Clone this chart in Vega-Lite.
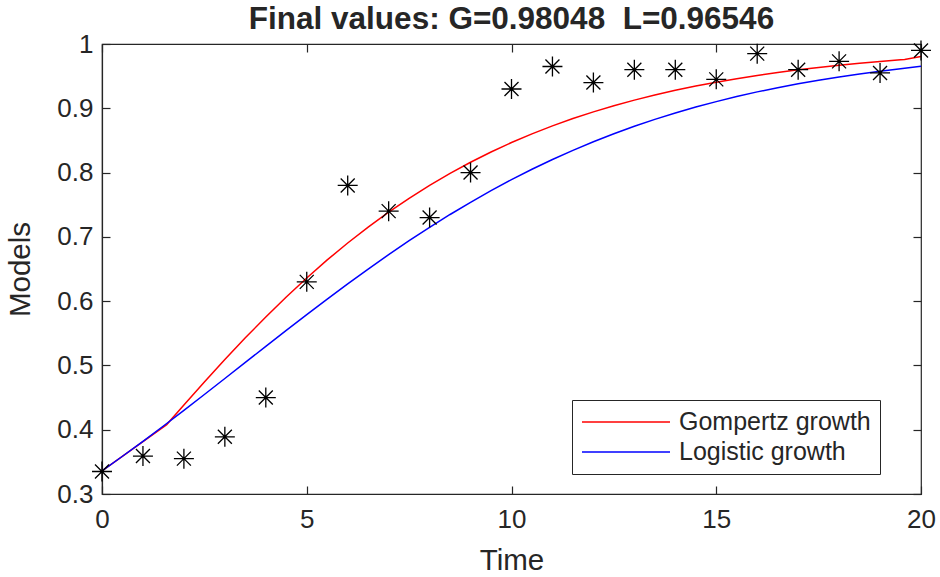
{
  "$schema": "https://vega.github.io/schema/vega-lite/v6.json",
  "width": 819,
  "height": 450,
  "autosize": {"type": "none"},
  "padding": {"left": 102, "top": 44, "right": 19, "bottom": 83},
  "background": "white",
  "config": {
    "font": "Liberation Sans",
    "view": {"stroke": "#262626", "strokeWidth": 1.2},
    "axis": {
      "grid": false,
      "domainColor": "#262626",
      "tickColor": "#262626",
      "labelColor": "#262626",
      "titleColor": "#262626",
      "labelFont": "Liberation Sans",
      "titleFont": "Liberation Sans",
      "labelFontSize": 26,
      "titleFontSize": 29.5,
      "titleFontWeight": "normal",
      "tickSize": -8,
      "tickWidth": 1.2,
      "domainWidth": 1.2,
      "labelFlush": false
    }
  },
  "title": {
    "text": "Final values: G=0.98048\u00a0 L=0.96546",
    "fontSize": 31.5,
    "fontWeight": "bold",
    "color": "#262626",
    "anchor": "middle",
    "offset": -4,
    "font": "Liberation Sans"
  },
  "datasets": {
    "curves": [
      {"t": 0, "y": 0.336, "model": "Gompertz growth"},
      {"t": 1.58, "y": 0.408, "model": "Gompertz growth"},
      {"t": 2, "y": 0.4385, "model": "Gompertz growth"},
      {"t": 2.5, "y": 0.4742, "model": "Gompertz growth"},
      {"t": 3, "y": 0.5092, "model": "Gompertz growth"},
      {"t": 3.5, "y": 0.5429, "model": "Gompertz growth"},
      {"t": 4, "y": 0.5754, "model": "Gompertz growth"},
      {"t": 4.5, "y": 0.6065, "model": "Gompertz growth"},
      {"t": 5, "y": 0.6361, "model": "Gompertz growth"},
      {"t": 5.5, "y": 0.6641, "model": "Gompertz growth"},
      {"t": 6, "y": 0.6904, "model": "Gompertz growth"},
      {"t": 6.5, "y": 0.7152, "model": "Gompertz growth"},
      {"t": 7, "y": 0.7384, "model": "Gompertz growth"},
      {"t": 7.5, "y": 0.76, "model": "Gompertz growth"},
      {"t": 8, "y": 0.7801, "model": "Gompertz growth"},
      {"t": 8.5, "y": 0.7988, "model": "Gompertz growth"},
      {"t": 9, "y": 0.816, "model": "Gompertz growth"},
      {"t": 9.5, "y": 0.832, "model": "Gompertz growth"},
      {"t": 10, "y": 0.8467, "model": "Gompertz growth"},
      {"t": 10.5, "y": 0.8602, "model": "Gompertz growth"},
      {"t": 11, "y": 0.8726, "model": "Gompertz growth"},
      {"t": 11.5, "y": 0.884, "model": "Gompertz growth"},
      {"t": 12, "y": 0.8944, "model": "Gompertz growth"},
      {"t": 12.5, "y": 0.904, "model": "Gompertz growth"},
      {"t": 13, "y": 0.9127, "model": "Gompertz growth"},
      {"t": 13.5, "y": 0.9207, "model": "Gompertz growth"},
      {"t": 14, "y": 0.9279, "model": "Gompertz growth"},
      {"t": 14.5, "y": 0.9346, "model": "Gompertz growth"},
      {"t": 15, "y": 0.9406, "model": "Gompertz growth"},
      {"t": 15.5, "y": 0.9461, "model": "Gompertz growth"},
      {"t": 16, "y": 0.9511, "model": "Gompertz growth"},
      {"t": 16.5, "y": 0.9557, "model": "Gompertz growth"},
      {"t": 17, "y": 0.9598, "model": "Gompertz growth"},
      {"t": 17.5, "y": 0.9635, "model": "Gompertz growth"},
      {"t": 18, "y": 0.967, "model": "Gompertz growth"},
      {"t": 18.5, "y": 0.9701, "model": "Gompertz growth"},
      {"t": 19, "y": 0.9729, "model": "Gompertz growth"},
      {"t": 19.5, "y": 0.9754, "model": "Gompertz growth"},
      {"t": 19.6, "y": 0.9759, "model": "Gompertz growth"},
      {"t": 20, "y": 0.98048, "model": "Gompertz growth"},
      {"t": 0, "y": 0.336, "model": "Logistic growth"},
      {"t": 0.5, "y": 0.3587, "model": "Logistic growth"},
      {"t": 1, "y": 0.382, "model": "Logistic growth"},
      {"t": 1.5, "y": 0.4058, "model": "Logistic growth"},
      {"t": 2, "y": 0.4302, "model": "Logistic growth"},
      {"t": 2.5, "y": 0.4548, "model": "Logistic growth"},
      {"t": 3, "y": 0.4797, "model": "Logistic growth"},
      {"t": 3.5, "y": 0.5047, "model": "Logistic growth"},
      {"t": 4, "y": 0.5297, "model": "Logistic growth"},
      {"t": 4.5, "y": 0.5545, "model": "Logistic growth"},
      {"t": 5, "y": 0.579, "model": "Logistic growth"},
      {"t": 5.5, "y": 0.6032, "model": "Logistic growth"},
      {"t": 6, "y": 0.6269, "model": "Logistic growth"},
      {"t": 6.5, "y": 0.6499, "model": "Logistic growth"},
      {"t": 7, "y": 0.6723, "model": "Logistic growth"},
      {"t": 7.5, "y": 0.694, "model": "Logistic growth"},
      {"t": 8, "y": 0.7148, "model": "Logistic growth"},
      {"t": 8.5, "y": 0.7348, "model": "Logistic growth"},
      {"t": 9, "y": 0.7538, "model": "Logistic growth"},
      {"t": 9.5, "y": 0.7719, "model": "Logistic growth"},
      {"t": 10, "y": 0.789, "model": "Logistic growth"},
      {"t": 10.5, "y": 0.8052, "model": "Logistic growth"},
      {"t": 11, "y": 0.8204, "model": "Logistic growth"},
      {"t": 11.5, "y": 0.8346, "model": "Logistic growth"},
      {"t": 12, "y": 0.848, "model": "Logistic growth"},
      {"t": 12.5, "y": 0.8604, "model": "Logistic growth"},
      {"t": 13, "y": 0.872, "model": "Logistic growth"},
      {"t": 13.5, "y": 0.8828, "model": "Logistic growth"},
      {"t": 14, "y": 0.8927, "model": "Logistic growth"},
      {"t": 14.5, "y": 0.9019, "model": "Logistic growth"},
      {"t": 15, "y": 0.9104, "model": "Logistic growth"},
      {"t": 15.5, "y": 0.9183, "model": "Logistic growth"},
      {"t": 16, "y": 0.9255, "model": "Logistic growth"},
      {"t": 16.5, "y": 0.9321, "model": "Logistic growth"},
      {"t": 17, "y": 0.9381, "model": "Logistic growth"},
      {"t": 17.5, "y": 0.9437, "model": "Logistic growth"},
      {"t": 18, "y": 0.9488, "model": "Logistic growth"},
      {"t": 18.5, "y": 0.9534, "model": "Logistic growth"},
      {"t": 19, "y": 0.9577, "model": "Logistic growth"},
      {"t": 19.5, "y": 0.9615, "model": "Logistic growth"},
      {"t": 20, "y": 0.96546, "model": "Logistic growth"}
    ],
    "observed": [
      {"t": 0, "y": 0.335},
      {"t": 1, "y": 0.359},
      {"t": 2, "y": 0.355},
      {"t": 3, "y": 0.389},
      {"t": 4, "y": 0.45},
      {"t": 5, "y": 0.63},
      {"t": 6, "y": 0.78},
      {"t": 7, "y": 0.74},
      {"t": 8, "y": 0.73},
      {"t": 9, "y": 0.8},
      {"t": 10, "y": 0.93},
      {"t": 11, "y": 0.965},
      {"t": 12, "y": 0.94},
      {"t": 13, "y": 0.96},
      {"t": 14, "y": 0.96},
      {"t": 15, "y": 0.945},
      {"t": 16, "y": 0.985},
      {"t": 17, "y": 0.96},
      {"t": 18, "y": 0.973},
      {"t": 19, "y": 0.955},
      {"t": 20, "y": 0.99}
    ]
  },
  "layer": [
    {
      "data": {"name": "curves"},
      "mark": {"type": "line", "strokeWidth": 1.5, "clip": true},
      "encoding": {
        "x": {
          "field": "t",
          "type": "quantitative",
          "scale": {"domain": [0, 20], "nice": false, "zero": false},
          "axis": {"orient": "bottom", "values": [0, 5, 10, 15, 20], "format": "d", "title": "Time", "labelPadding": 20, "titlePadding": 14}
        },
        "y": {
          "field": "y",
          "type": "quantitative",
          "scale": {"domain": [0.3, 1], "nice": false, "zero": false},
          "axis": {"orient": "left", "values": [0.3, 0.4, 0.5, 0.6, 0.7, 0.8, 0.9, 1], "format": "~g", "title": "Models", "labelPadding": 17, "titlePadding": 21}
        },
        "color": {
          "field": "model",
          "type": "nominal",
          "scale": {"domain": ["Gompertz growth", "Logistic growth"], "range": ["#ff0000", "#0000ff"]},
          "legend": {
            "title": null,
            "orient": "none",
            "legendX": 470,
            "legendY": 356,
            "strokeColor": "#262626",
            "fillColor": "white",
            "padding": 9,
            "labelFontSize": 25,
            "labelLimit": 400,
            "labelColor": "#262626",
            "labelFont": "Liberation Sans",
            "symbolType": "stroke",
            "symbolSize": 7744,
            "symbolStrokeWidth": 1.5,
            "clipHeight": 26,
            "rowPadding": 4,
            "labelOffset": 8
          }
        }
      }
    },
    {
      "data": {"name": "observed"},
      "mark": {
        "type": "point",
        "shape": "M-1,0L1,0M0,-1L0,1M-0.7,-0.7L0.7,0.7M-0.7,0.7L0.7,-0.7",
        "filled": false,
        "color": "black",
        "size": 400,
        "strokeWidth": 1.3,
        "opacity": 1
      },
      "encoding": {
        "x": {
          "field": "t",
          "type": "quantitative",
          "axis": {"orient": "top", "values": [0, 5, 10, 15, 20], "labels": false, "title": null, "domain": false}
        },
        "y": {
          "field": "y",
          "type": "quantitative",
          "axis": {"orient": "right", "values": [0.3, 0.4, 0.5, 0.6, 0.7, 0.8, 0.9, 1], "labels": false, "title": null, "domain": false}
        }
      }
    }
  ]
}
